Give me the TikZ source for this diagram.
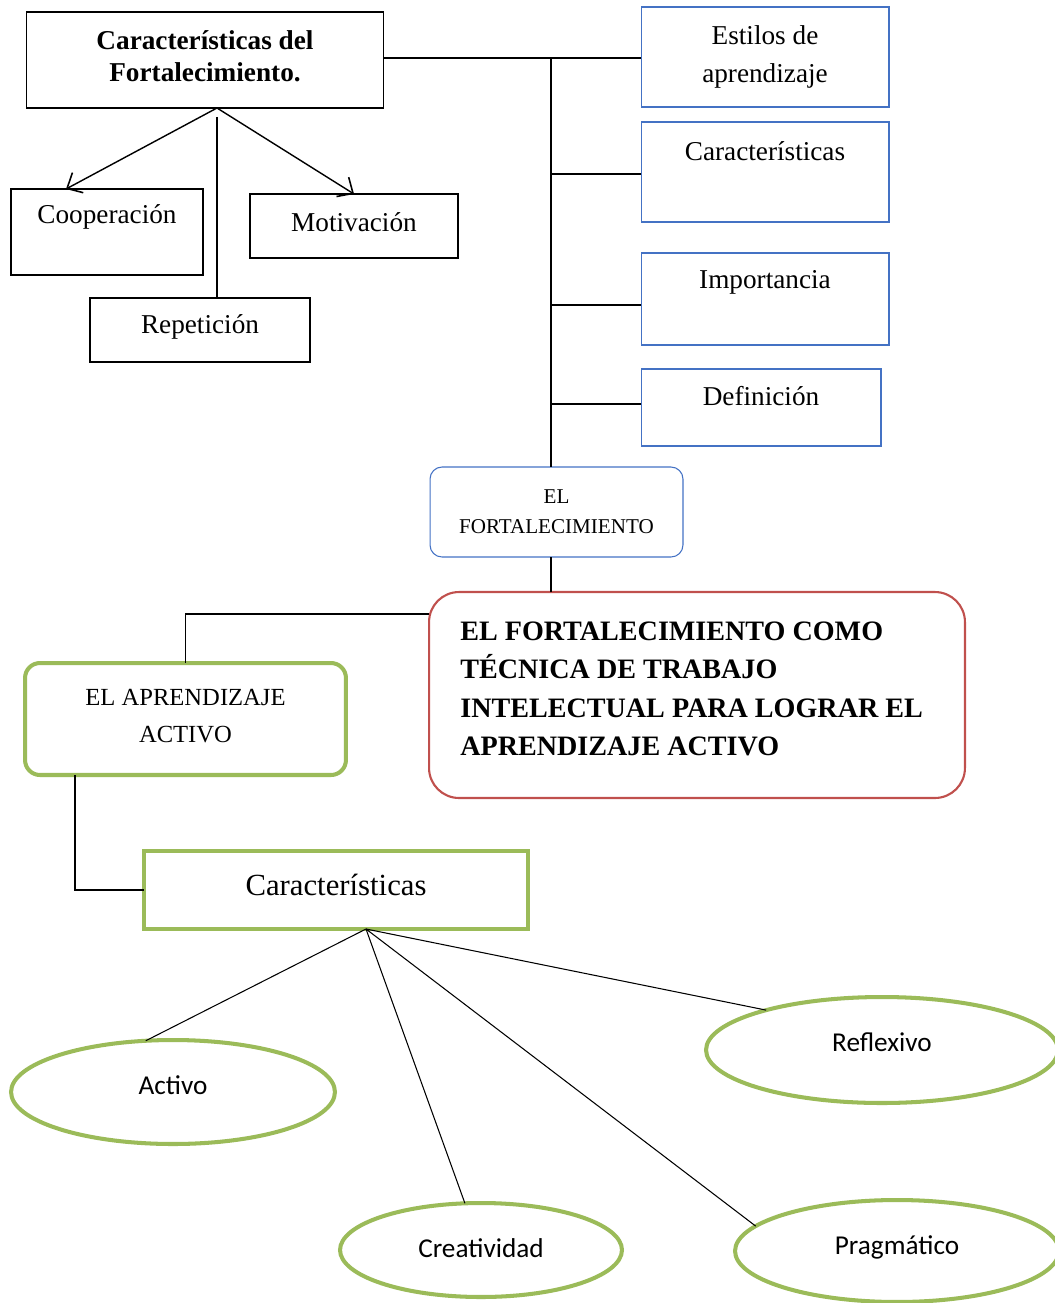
\documentclass[tikz,border=0pt]{standalone}
\usepackage{fontspec}
\setmainfont{Liberation Serif}
\newfontfamily\calibri{Carlito}
\usetikzlibrary{calc,arrows.meta,shapes.geometric}
\definecolor{azulw}{RGB}{68,114,196}
\definecolor{rojow}{RGB}{192,80,77}
\definecolor{verdew}{RGB}{155,187,89}

\begin{document}
\begin{tikzpicture}[x=0.02cm,y=-0.02cm,
	caja/.style={draw,rectangle,inner sep=0pt,outer sep=0pt,line width=0.6pt},
	azul/.style={caja,draw=azulw},
	verde/.style={draw=verdew,line width=2.3pt,inner sep=0pt,outer sep=0pt},
	ovalo/.style={verde,ellipse},
	letra/.style={font=\calibri\fontsize{15.5}{18}\selectfont},
	linea/.style={line width=0.8pt},
	fina/.style={line width=0.6pt},
	flecha/.style={linea,-{Straight Barb[length=7pt,width=13pt,line width=0.9pt]}},
	font=\fontsize{15.5}{22}\selectfont]
	\useasboundingbox (0,0) rectangle (1055,1303);

	\node[caja,minimum width=7.16cm,minimum height=1.92cm] (A) at (205,60) {};
	\node[align=center,font=\bfseries\fontsize{15.5}{18}\selectfont] (At) at (205,56) {Características del\\Fortalecimiento.};
	\node[caja,minimum width=3.84cm,minimum height=1.72cm] (coop) at (107,232) {};
	\node (coopt) at (107,217) {Cooperación};
	\node[caja,minimum width=4.16cm,minimum height=1.28cm] (moti) at (354,226) {};
	\node (motit) at (354,222) {Motivación};
	\node[caja,minimum width=4.4cm,minimum height=1.28cm] (repe) at (200,330) {};
	\node (repet) at (200,327) {Repetición};

	\coordinate (Ab) at ($(A.south)+(12,0)$);
	\draw[flecha] (Ab) -- ($(coop.north west)+(55,0)$);
	\draw[flecha] (Ab) -- ($(moti.north west)+(104,0)$);
	\draw[linea] ($(Ab)+(0,9)$) -- (Ab |- repe.north);

	\node[azul,minimum width=4.96cm,minimum height=2cm,align=center] (est) at (765,57) {Estilos de\\aprendizaje};
	\node[azul,minimum width=4.96cm,minimum height=2cm] (car1) at (765,172) {};
	\node (car1t) at (765,151) {Características};
	\node[azul,minimum width=4.96cm,minimum height=1.84cm] (imp) at (765,299) {};
	\node (impt) at (765,282) {Importancia};
	\node[azul,minimum width=4.8cm,minimum height=1.54cm] (def) at (761,407.5) {};
	\node (deft) at (761,396) {Definición};

	\node[azul,rounded corners=0.24cm,minimum width=5.06cm,minimum height=1.8cm,align=center,font=\fontsize{12}{17}\selectfont] (fort) at (556.5,512) {EL\\FORTALECIMIENTO};

	\coordinate (tr) at ($(A.east)+(167,-2)$);
	\draw[linea] ($(A.east)+(0,-2)$) -- (tr) -- (tr -| est.west);
	\draw[linea] (tr) -- (tr |- fort.north);
	\draw[linea] (tr |- car1.west) ++(0,2) -- ++(90,0);
	\draw[linea] (tr |- imp.west) ++(0,6) -- ++(90,0);
	\draw[linea] (tr |- def.west) ++(0,-3.5) -- ++(90,0);

	\node[draw=rojow,line width=1.2pt,rounded corners=0.6cm,minimum width=10.72cm,minimum height=4.12cm,inner sep=0pt,outer sep=0pt] (red) at (697,695) {};
	\node[anchor=west,align=left,inner sep=0pt,font=\bfseries\fontsize{16}{21.8}\selectfont] (redt) at (460,689) {EL FORTALECIMIENTO COMO\\TÉCNICA DE TRABAJO\\INTELECTUAL PARA LOGRAR EL\\APRENDIZAJE ACTIVO};
	\draw[linea] (tr |- fort.south) -- (tr |- red.north);

	\node[verde,rounded corners=0.3cm,minimum width=6.42cm,minimum height=2.24cm] (act) at (185.5,719) {};
	\node[align=center,font=\fontsize{14}{21}\selectfont] (actt) at (185.5,716) {EL APRENDIZAJE\\ACTIVO};
	\draw[linea] ($(red.north west)+(0,22)$) -| (act.north);

	\node[verde,minimum width=7.68cm,minimum height=1.56cm] (car) at (336,890) {};
	\node[font=\fontsize{17.5}{20}\selectfont] (cart) at (336,885) {Características};
	\draw[linea] ($(act.south west)+(50,0)$) |- (car.west);

	\node[ovalo,minimum width=6.48cm,minimum height=2.08cm] (activo) at (173,1092) {};
	\node[letra] (activot) at (173,1085) {Activo};
	\node[ovalo,minimum width=5.64cm,minimum height=1.88cm] (crea) at (481,1250) {};
	\node[letra] (creat) at (481,1248) {Creatividad};
	\node[ovalo,minimum width=7.04cm,minimum height=2.12cm] (refl) at (882,1050) {};
	\node[letra] (reflt) at (882,1042) {Reflexivo};
	\node[ovalo,minimum width=6.48cm,minimum height=2.04cm] (prag) at (897,1251) {};
	\node[letra] (pragt) at (897,1247) {Pragmático};

	\coordinate (cs) at ($(car.south)+(30,0)$);
	\draw[fina] (cs) -- (activo.118);
	\draw[fina] (cs) -- (crea.109);
	\draw[fina] (cs) -- (prag.170);
	\draw[fina] (cs) -- (refl.161);
\end{tikzpicture}
\end{document}
